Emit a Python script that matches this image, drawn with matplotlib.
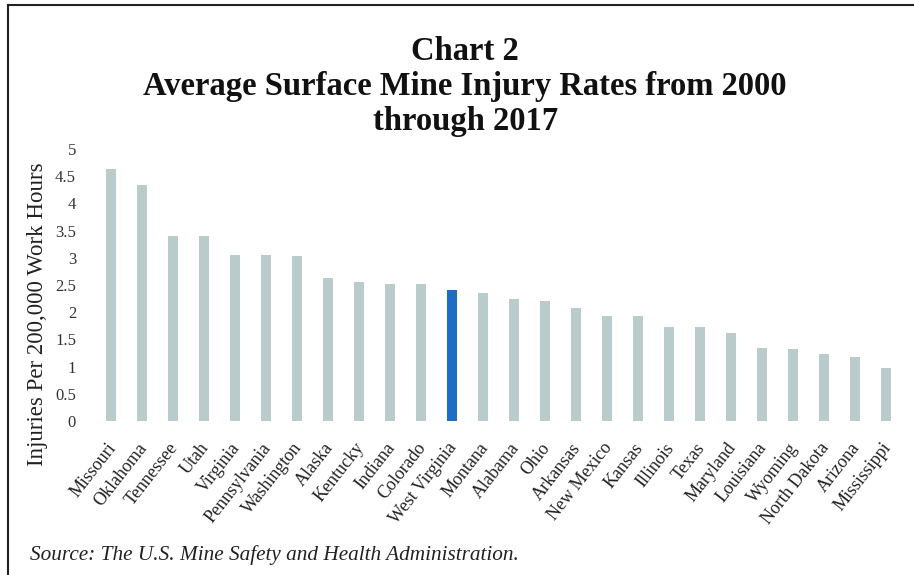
import matplotlib
matplotlib.use("Agg")
import matplotlib.pyplot as plt
from matplotlib.lines import Line2D
from matplotlib.transforms import ScaledTranslation

states = ["Missouri", "Oklahoma", "Tennessee", "Utah", "Virginia", "Pennsylvania",
          "Washington", "Alaska", "Kentucky", "Indiana", "Colorado", "West Virginia",
          "Montana", "Alabama", "Ohio", "Arkansas", "New Mexico", "Kansas", "Illinois",
          "Texas", "Maryland", "Louisiana", "Wyoming", "North Dakota", "Arizona", "Mississippi"]
rates = [4.63, 4.34, 3.40, 3.40, 3.05, 3.05, 3.04, 2.62, 2.56, 2.51, 2.51, 2.40,
         2.36, 2.24, 2.21, 2.07, 1.92, 1.92, 1.73, 1.72, 1.61, 1.34, 1.32, 1.23, 1.18, 0.97]
highlight = "West Virginia"
yticks = [0, 0.5, 1, 1.5, 2, 2.5, 3, 3.5, 4, 4.5, 5]
ytick_labels = ["0", "0.5", "1", "1.5", "2", "2.5", "3", "3.5", "4", "4.5", "5"]

plt.rcParams['font.family'] = ['Liberation Serif', 'DejaVu Serif']

fig = plt.figure(figsize=(9.14, 5.75), dpi=100)
ax = fig.add_axes([0.1045, 0.268, 0.8815, 0.473])

colors = ["#1f6cc4" if s == highlight else "#b9cccb" for s in states]
x = list(range(len(states)))
ax.bar(x, rates, width=0.33, color=colors)
ax.set_xlim(-0.5, len(states) - 0.5)
ax.set_ylim(0, 5)
ax.set_yticks(yticks)
ax.set_yticklabels(ytick_labels, fontsize=12, color="#333333")
ax.set_xticks(x)
ax.set_xticklabels([])
ax.tick_params(length=0)
ax.tick_params(axis="y", pad=14)
for sp in ax.spines.values():
    sp.set_visible(False)

offset = ScaledTranslation(2 / 100, -24 / 100, fig.dpi_scale_trans)
for i, s in zip(x, states):
    ax.text(i, 0, s, transform=ax.get_xaxis_transform() + offset,
            rotation=52, ha="right", va="center", rotation_mode="anchor",
            fontsize=13, color="#222222")

fig.text(0.041, 0.454, "Injuries Per 200,000 Work Hours", rotation=90,
         ha="center", va="center", fontsize=16.5, color="#222222")

fig.text(0.509, 0.938, "Chart 2\nAverage Surface Mine Injury Rates from 2000\nthrough 2017",
         ha="center", va="top", fontsize=23.5, fontweight="bold", linespacing=1.18,
         color="#111111")
fig.text(0.033, 0.018, "Source: The U.S. Mine Safety and Health Administration.",
         ha="left", va="bottom", fontsize=15.3, style="italic", color="#222222")

fig.add_artist(Line2D([0.009, 0.009], [0, 0.992], transform=fig.transFigure,
                      color="#222222", linewidth=1.5))
fig.add_artist(Line2D([0.009, 1.0], [0.992, 0.992], transform=fig.transFigure,
                      color="#222222", linewidth=1.5))

fig.savefig("out.png", dpi=100)
